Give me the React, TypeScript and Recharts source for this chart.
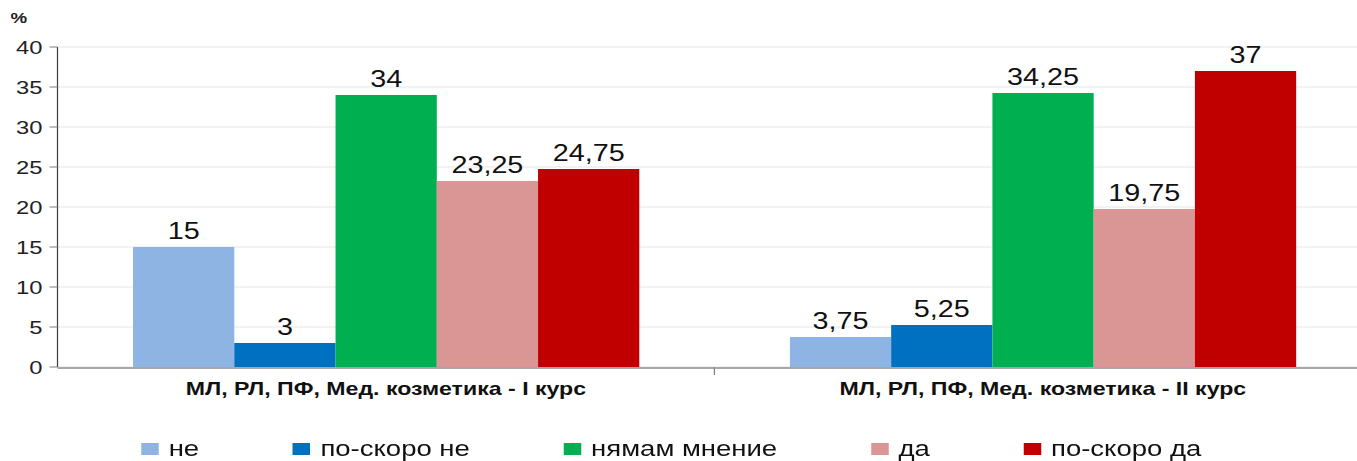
import { BarChart, Bar, XAxis, YAxis, CartesianGrid, Legend, LabelList } from 'recharts'

const categories = ['МЛ, РЛ, ПФ, Мед. козметика - I курс', 'МЛ, РЛ, ПФ, Мед. козметика - II курс']
const ne = [15, 3.75]
const poSkoroNe = [3, 5.25]
const nyamamMnenie = [34, 34.25]
const da = [23.25, 19.75]
const poSkoroDa = [24.75, 37]
const yTicks = [0, 5, 10, 15, 20, 25, 30, 35, 40]
const edgeTicks = [-0.5, 0.5, 1.5]

const series = [
  { key: 'ne', name: 'не', color: '#8EB4E3', values: ne },
  { key: 'poSkoroNe', name: 'по-скоро не', color: '#0070C0', values: poSkoroNe },
  { key: 'nyamam', name: 'нямам мнение', color: '#00B050', values: nyamamMnenie },
  { key: 'da', name: 'да', color: '#D99694', values: da },
  { key: 'poSkoroDa', name: 'по-скоро да', color: '#C00000', values: poSkoroDa },
]

const data = categories.map((name, i) => {
  const row: Record<string, string | number> = { name, edge: i }
  series.forEach((s) => { row[s.key] = s.values[i] })
  return row
})

// the reference is stretched sideways, so draw narrow and scale on x
const STRETCH = 1.25
const W = 1086
const H = 461
const FONT = '"Liberation Sans", Arial, sans-serif'

// numeric ids so the edge-tick axis sits right on the plot, before the category axis
const EDGE_AXIS = 0
const CAT_AXIS = 1

const fmt = (v: unknown) => String(v).replace('.', ',')

function LegendRow() {
  return (
    <div style={{ display: 'flex', justifyContent: 'center', gap: 75, height: 24, paddingRight: 12, alignItems: 'center', fontFamily: FONT, fontSize: 22, color: '#111' }}>
      {series.map((s) => (
        <div key={s.key} style={{ display: 'flex', alignItems: 'center' }}>
          <span style={{ width: 14, height: 12, background: s.color, marginRight: 8, display: 'inline-block' }} />
          <span>{s.name}</span>
        </div>
      ))}
    </div>
  )
}

export default function App() {
  return (
    <div style={{ position: 'absolute', left: 0, top: 0, width: W, height: H, transform: `scaleX(${STRETCH})`, transformOrigin: '0 0', background: '#fff' }}>
      <BarChart
        width={W}
        height={H}
        data={data}
        margin={{ top: 47, right: -11, bottom: 0, left: 0 }}
        barCategoryGap="11.5%"
        barGap={0}
      >
        <CartesianGrid xAxisId={CAT_AXIS} vertical={false} stroke="#e6e6e6" />
        <XAxis
          xAxisId={EDGE_AXIS}
          type="number"
          domain={[-0.5, 1.5]}
          ticks={edgeTicks}
          tickFormatter={() => ''}
          axisLine={false}
          tickLine={{ stroke: '#808080' }}
          tickSize={8}
          height={1}
        />
        <XAxis
          xAxisId={CAT_AXIS}
          dataKey="name"
          axisLine={{ stroke: '#8c8c8c', strokeWidth: 1.5 }}
          tickLine={false}
          tickSize={0}
          tickMargin={14}
          height={69}
          interval={0}
          tick={{ fontFamily: FONT, fontSize: 18.5, fontWeight: 'bold', fill: '#111' }}
        />
        <YAxis
          domain={[0, 40]}
          ticks={yTicks}
          width={46}
          tickSize={6.4}
          tickMargin={5.6}
          axisLine={{ stroke: '#404040' }}
          tickLine={{ stroke: '#808080' }}
          tick={{ fontFamily: FONT, fontSize: 19, fill: '#222' }}
          label={{ value: '%', position: 'top', offset: 24, dx: -8, style: { fontFamily: FONT, fontSize: 15, fontWeight: 'bold', fill: '#222' } }}
        />
        <Legend
          verticalAlign="bottom"
          wrapperStyle={{ left: 0, width: W }}
          content={() => <LegendRow />}
        />
        {series.map((s) => (
          <Bar key={s.key} xAxisId={CAT_AXIS} dataKey={s.key} name={s.name} fill={s.color} isAnimationActive={false}>
            <LabelList dataKey={s.key} position="top" offset={8} formatter={fmt} style={{ fontFamily: FONT, fontSize: 23, fill: '#111' }} />
          </Bar>
        ))}
      </BarChart>
    </div>
  )
}
